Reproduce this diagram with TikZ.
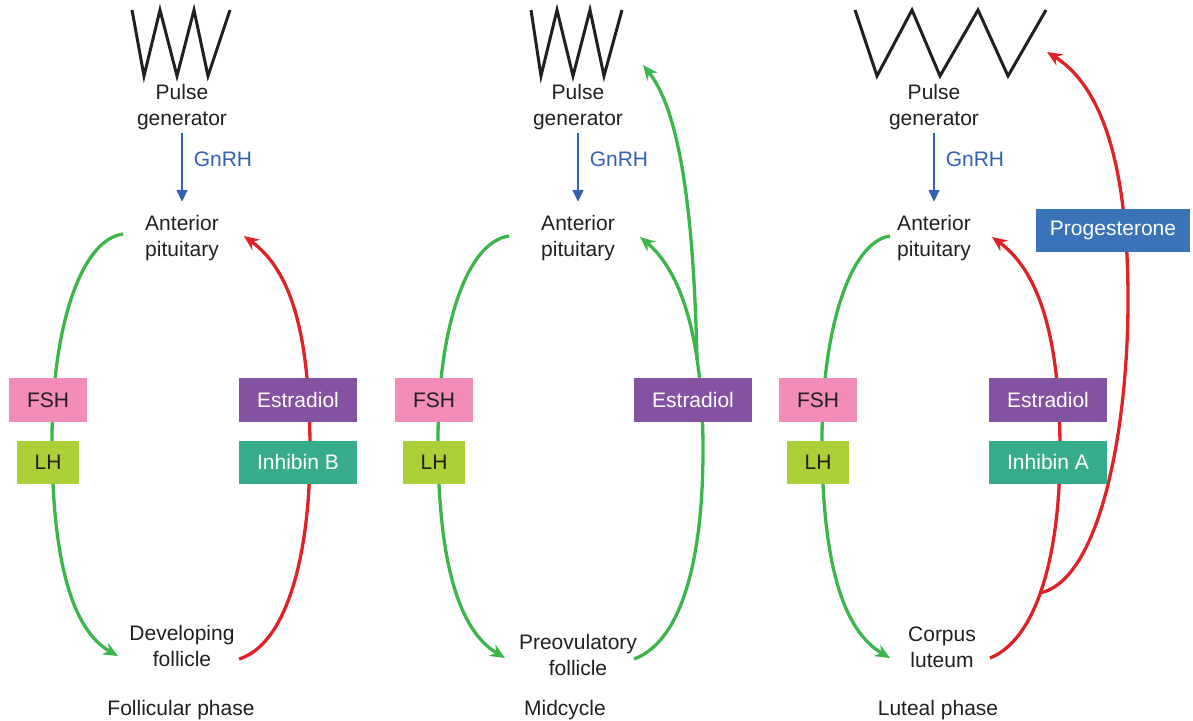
\documentclass[tikz,border=0pt]{standalone}
\usepackage{fontspec}
\setmainfont{Liberation Sans}
\usetikzlibrary{arrows.meta,calc}
\definecolor{ink}{HTML}{231F20}
\definecolor{gnblue}{HTML}{3361B0}
\definecolor{stimgreen}{HTML}{3CB54A}
\definecolor{fbred}{HTML}{DF2228}
\definecolor{fshpink}{HTML}{F28CB9}
\definecolor{lhgreen}{HTML}{ABCF37}
\definecolor{e2purple}{HTML}{8452A1}
\definecolor{inhteal}{HTML}{36AC8C}
\definecolor{progblue}{HTML}{3B73B9}
\begin{document}
\begin{tikzpicture}[x=0.5pt,y=-0.5pt]
    \tikzset{
        txt/.style={align=center, inner sep=0pt, text=ink, font=\fontsize{10.5}{13}\selectfont},
        hormone/.style={txt, minimum height=21.5pt, text=white},
        zig/.style={draw=ink, line width=1.5pt, line join=miter},
        gnrh/.style={draw=gnblue, line width=0.75pt, -{Triangle[length=6pt,width=5.5pt]}},
        stim/.style={draw=stimgreen, line width=1.65pt, -{Stealth[length=7.5pt,width=6.5pt,inset=2.5pt]}},
        fb/.style={draw=fbred, line width=1.65pt, -{Stealth[length=7.5pt,width=6.5pt,inset=2.5pt]}}
    }
    \useasboundingbox (0,0) rectangle (1193,721);

    % pulse generators
    \draw[zig] (132,10) -- (144,76) -- (160,10) -- (177,76) -- (194,10) -- (208,76) -- (230,10);
    \draw[zig] (531,10) -- (541,76) -- (557,10) -- (573,76) -- (590,10) -- (604,76) -- (622,10);
    \draw[zig] (855,10) -- (877,76) -- (912,10) -- (940,76) -- (978,10) -- (1008,76) -- (1046,10);

    \foreach \i/\x in {1/182, 2/578, 3/934} {
        \draw node[txt] (pg\i) at (\x,107) {Pulse\\generator};
        \draw node[txt] (ap\i) at (\x,238) {Anterior\\pituitary};
        \draw[gnrh] ([yshift=-1.5pt]pg\i.south) -- ([yshift=6.5pt]ap\i.north)
            node[pos=0.38, anchor=west, xshift=5.5pt, txt, text=gnblue] {GnRH};
    }

    \draw node[txt] (df1) at (182,646) {Developing\\follicle};
    \draw node[txt] (pf2) at (578,655) {Preovulatory\\follicle};
    \draw node[txt] (cl3) at (942,647) {Corpus\\luteum};

    \draw node[txt] (ph1) at (181,710) {Follicular phase};
    \draw node[txt] (ph2) at (565,710) {Midcycle};
    \draw node[txt] (ph3) at (938,710) {Luteal phase};

    % follicular phase
    \draw[stim] ($(ap1)+(-59,-4)$) .. controls (80,240) and (52,330) .. (52,440)
        .. controls (52,560) and (72,630) .. ($(df1)+(-64,10)$);
    \draw[fb] ($(df1)+(57,13)$) .. controls (285,645) and (310,560) .. (310,450)
        .. controls (310,330) and (290,270) .. ($(ap1)+(62,-2)$);

    % midcycle
    \draw[stim] ($(ap2)+(-69,-2)$) .. controls (466,242) and (438,330) .. (438,440)
        .. controls (438,560) and (458,630) .. ($(pf2)+(-73,3)$);
    \draw[stim] ($(pf2)+(56,4)$) .. controls (685,640) and (703,550) .. (703,450)
        .. controls (703,340) and (682,272) .. ($(ap2)+(62,-1)$);
    \coordinate (surge) at (697,360);
    \coordinate (pgtop2) at (643,65);
    \draw[stim] (surge) .. controls (694,230) and (683,115) .. (pgtop2);

    % luteal phase
    \draw[stim] ($(ap3)+(-44,-2)$) .. controls (850,242) and (822,330) .. (822,440)
        .. controls (822,560) and (842,630) .. ($(cl3)+(-52,11)$);
    \draw[fb] ($(cl3)+(48,11)$) .. controls (1035,640) and (1060,560) .. (1060,450)
        .. controls (1060,340) and (1040,272) .. ($(ap3)+(58,-1)$);
    \coordinate (split) at (1040,593);
    \coordinate (pgtop3) at (1047,52);
    \draw[fb] (split) .. controls (1100,580) and (1128,430) .. (1128,300)
        .. controls (1128,160) and (1100,85) .. (pgtop3);

    \foreach \n/\x/\t in {fsh1/48/1, fsh2/434/2, fsh3/818/3} {
        \draw node[hormone, fill=fshpink, text=ink, minimum width=39pt] (fsh\t) at (\x,400) {FSH};
        \draw node[hormone, fill=lhgreen, text=ink, minimum width=31pt] (lh\t) at (\x,462) {LH};
    }

    \draw node[hormone, fill=e2purple, minimum width=59pt] (e21) at (298,400) {Estradiol};
    \draw node[hormone, fill=inhteal, minimum width=59pt] (inb) at (298,462) {Inhibin B};
    \draw node[hormone, fill=e2purple, minimum width=59pt] (e22) at (693,400) {Estradiol};
    \draw node[hormone, fill=e2purple, minimum width=59pt] (e23) at (1048,400) {Estradiol};
    \draw node[hormone, fill=inhteal, minimum width=59pt] (ina) at (1048,462) {Inhibin A};
    \draw node[hormone, fill=progblue, minimum width=77pt] (prog) at (1113,230.5) {Progesterone};
\end{tikzpicture}
\end{document}
